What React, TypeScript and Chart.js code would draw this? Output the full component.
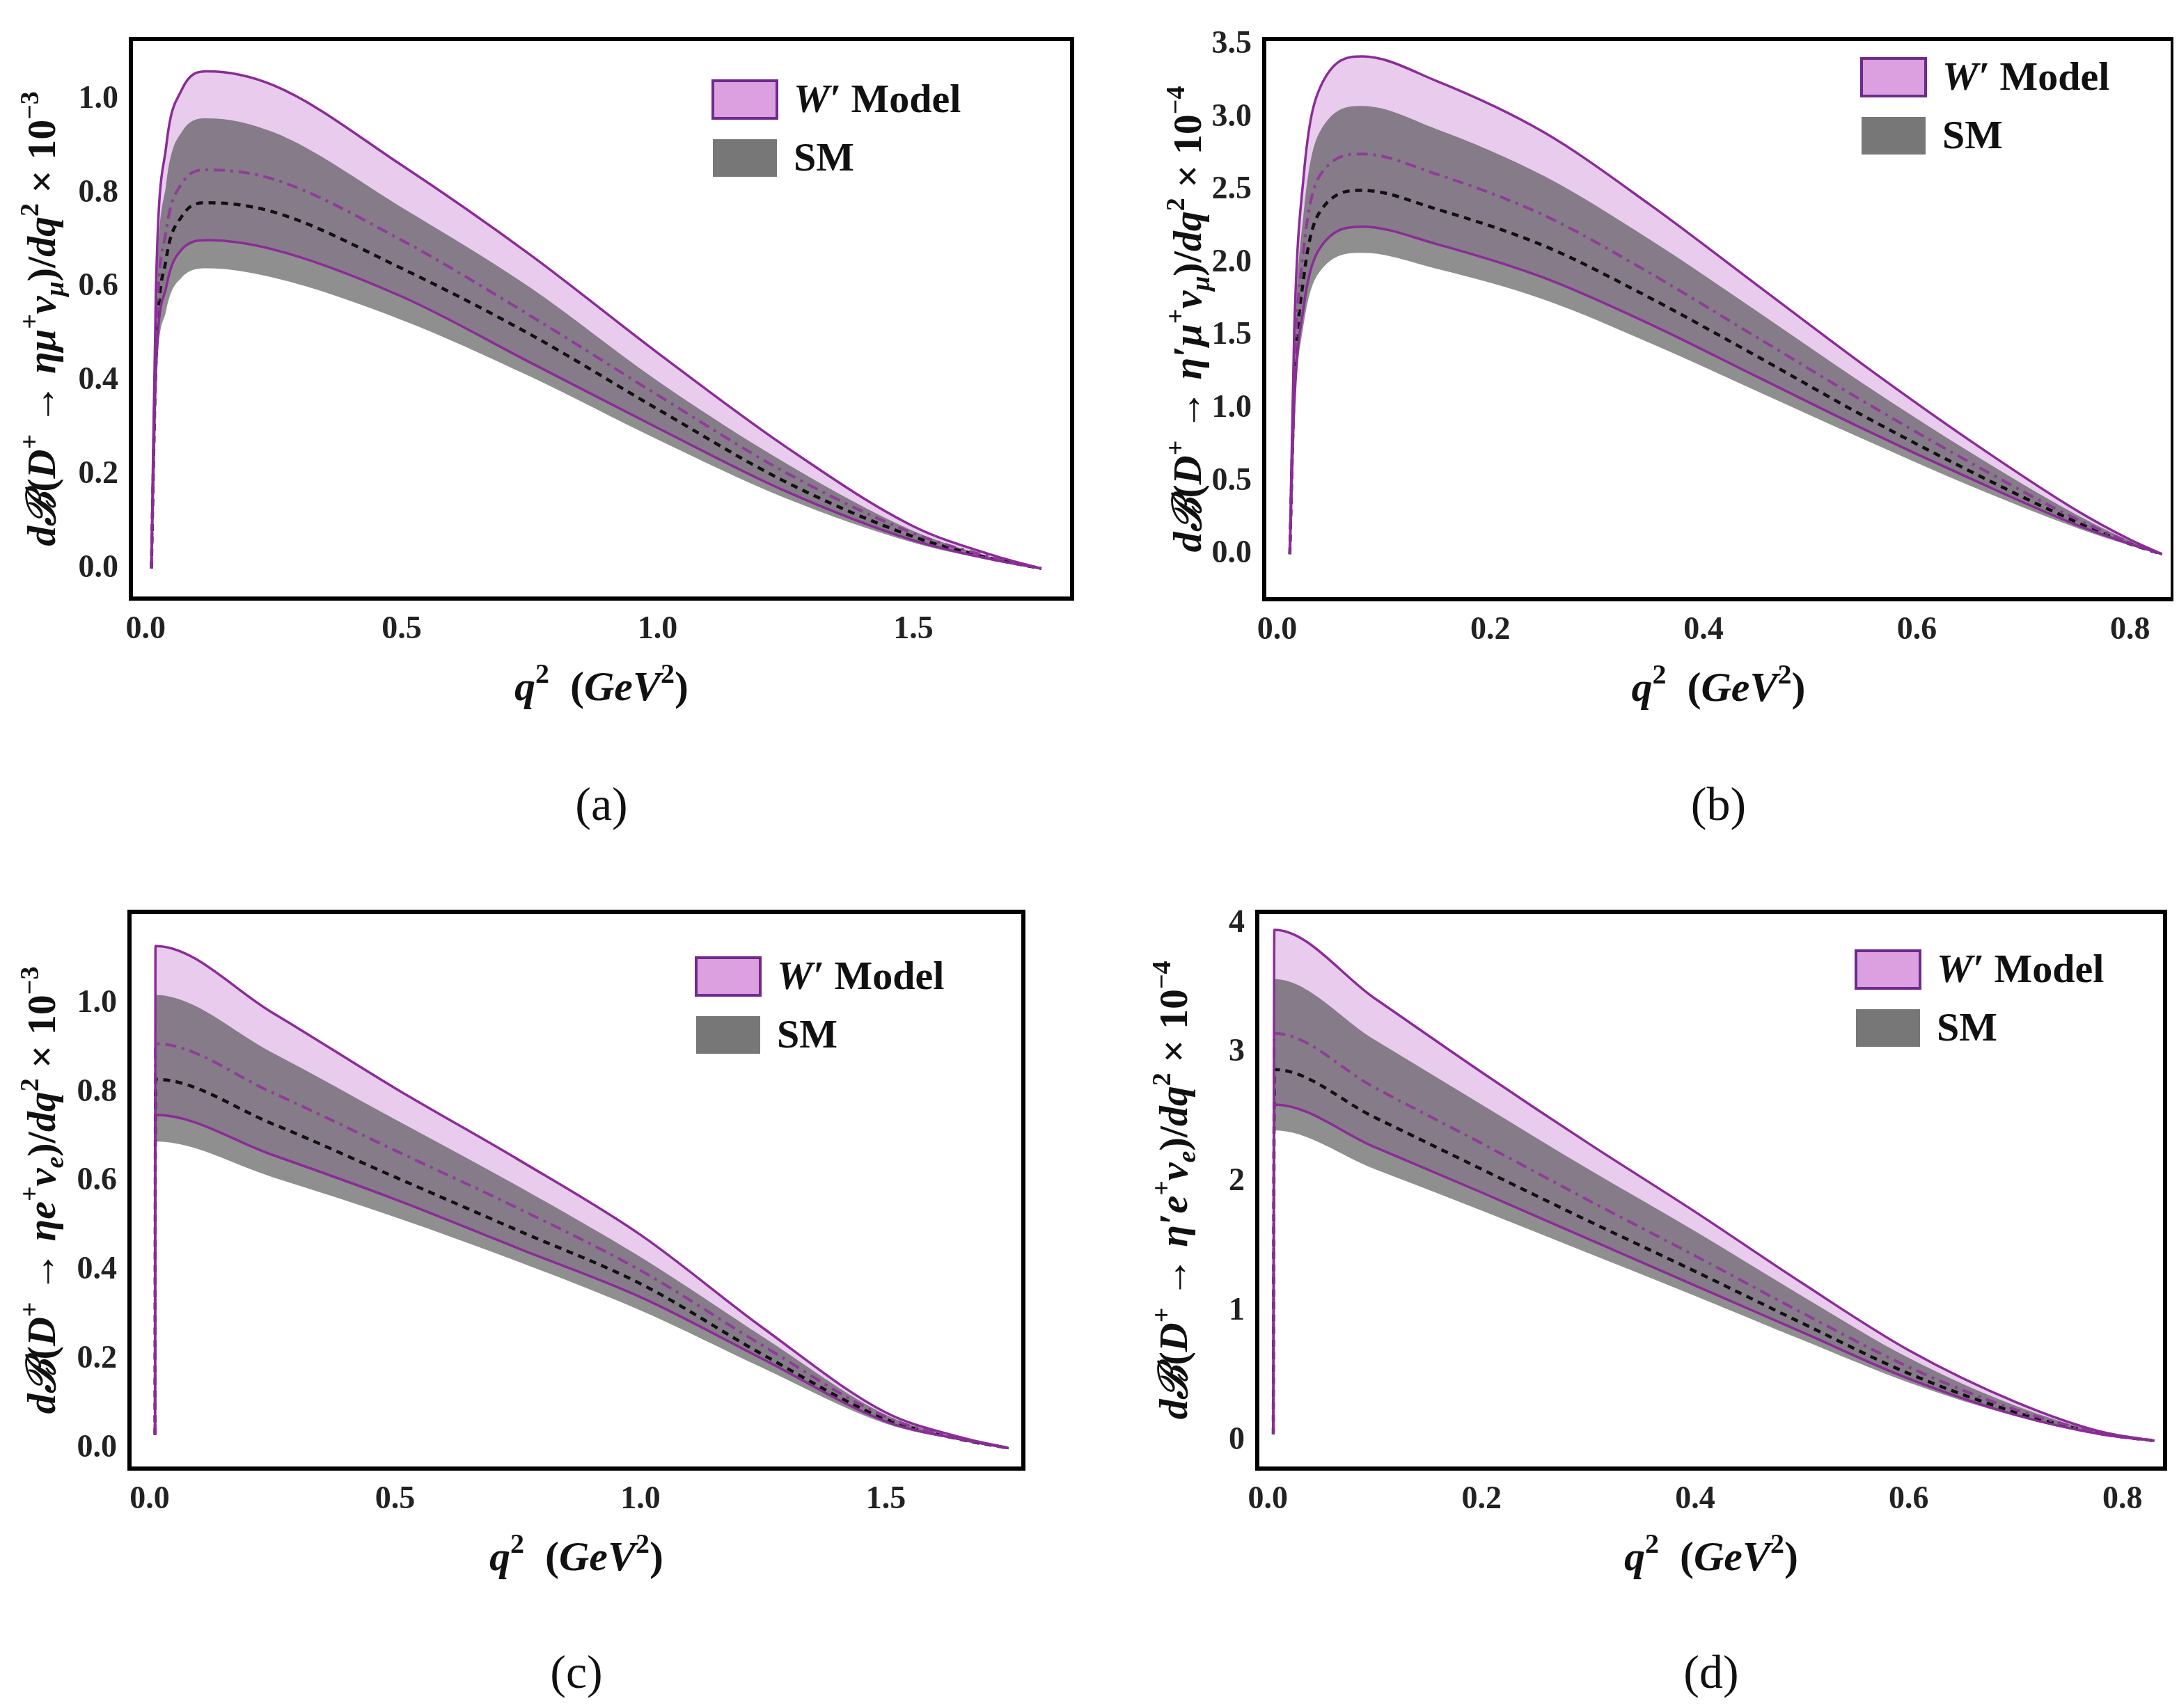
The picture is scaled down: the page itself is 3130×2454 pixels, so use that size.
import React, { useEffect, useRef } from "react";
import { Chart, registerables } from "chart.js";
Chart.register(...registerables);

// ---------- data ----------
const xA = [0.011, 0.02, 0.04, 0.07, 0.12, 0.25, 0.5, 0.75, 1.0, 1.25, 1.5, 1.65, 1.75];
const wUpA = [0, 0.6, 0.9, 1.02, 1.06, 1.03, 0.86, 0.67, 0.46, 0.26, 0.09, 0.03, 0];
const wLoA = [0, 0.42, 0.6, 0.68, 0.7, 0.68, 0.58, 0.44, 0.3, 0.165, 0.06, 0.02, 0];
const sUpA = [0, 0.55, 0.82, 0.93, 0.96, 0.93, 0.77, 0.6, 0.4, 0.225, 0.08, 0.025, 0];
const sLoA = [0, 0.38, 0.55, 0.62, 0.64, 0.62, 0.53, 0.41, 0.275, 0.15, 0.055, 0.018, 0];
const wCA = [0, 0.48, 0.72, 0.82, 0.85, 0.83, 0.7, 0.54, 0.37, 0.205, 0.075, 0.025, 0];
const sCA = [0, 0.44, 0.66, 0.75, 0.78, 0.76, 0.64, 0.5, 0.34, 0.185, 0.068, 0.022, 0];
const yTicksA = [0, 0.2, 0.4, 0.6, 0.8, 1.0];
const xTicksA = [0, 0.5, 1.0, 1.5];

const xB = [0.012, 0.016, 0.025, 0.04, 0.08, 0.15, 0.25, 0.35, 0.45, 0.55, 0.65, 0.75, 0.8, 0.83];
const wUpB = [0, 1.5, 2.6, 3.2, 3.42, 3.25, 2.9, 2.4, 1.85, 1.3, 0.78, 0.3, 0.1, 0];
const wLoB = [0, 1.0, 1.7, 2.1, 2.25, 2.13, 1.9, 1.58, 1.22, 0.86, 0.52, 0.2, 0.07, 0];
const sUpB = [0, 1.35, 2.35, 2.9, 3.08, 2.92, 2.6, 2.16, 1.67, 1.17, 0.7, 0.27, 0.09, 0];
const sLoB = [0, 0.92, 1.58, 1.94, 2.07, 1.96, 1.75, 1.45, 1.12, 0.79, 0.47, 0.18, 0.06, 0];
const wCB = [0, 1.2, 2.1, 2.6, 2.75, 2.61, 2.33, 1.93, 1.49, 1.05, 0.63, 0.24, 0.08, 0];
const sCB = [0, 1.1, 1.9, 2.35, 2.5, 2.37, 2.12, 1.76, 1.36, 0.95, 0.57, 0.22, 0.07, 0];
const yTicksB = [0, 0.5, 1.0, 1.5, 2.0, 2.5, 3.0, 3.5];
const xTicksB = [0, 0.2, 0.4, 0.6, 0.8];

const xC = [0.011, 0.012, 0.25, 0.5, 0.75, 1.0, 1.25, 1.5, 1.65, 1.75];
const wUpC = [0.03, 1.13, 0.98, 0.81, 0.65, 0.48, 0.27, 0.08, 0.025, 0];
const wLoC = [0.03, 0.75, 0.66, 0.56, 0.45, 0.34, 0.2, 0.06, 0.02, 0];
const sUpC = [0.03, 1.02, 0.89, 0.74, 0.59, 0.43, 0.25, 0.075, 0.022, 0];
const sLoC = [0.03, 0.69, 0.61, 0.52, 0.42, 0.31, 0.18, 0.055, 0.018, 0];
const wCC = [0.03, 0.91, 0.8, 0.67, 0.54, 0.4, 0.23, 0.07, 0.022, 0];
const sCC = [0.03, 0.83, 0.73, 0.61, 0.49, 0.37, 0.21, 0.065, 0.02, 0];
const yTicksC = [0, 0.2, 0.4, 0.6, 0.8, 1.0];
const xTicksC = [0, 0.5, 1.0, 1.5];

const xD = [0.005, 0.006, 0.1, 0.2, 0.3, 0.4, 0.5, 0.6, 0.7, 0.78, 0.83];
const wUpD = [0.05, 3.95, 3.42, 2.85, 2.3, 1.77, 1.22, 0.7, 0.3, 0.07, 0];
const wLoD = [0.05, 2.6, 2.27, 1.92, 1.56, 1.2, 0.84, 0.48, 0.2, 0.05, 0];
const sUpD = [0.05, 3.57, 3.1, 2.6, 2.1, 1.62, 1.12, 0.64, 0.27, 0.065, 0];
const sLoD = [0.05, 2.4, 2.1, 1.78, 1.45, 1.12, 0.78, 0.45, 0.19, 0.045, 0];
const wCD = [0.05, 3.15, 2.73, 2.3, 1.86, 1.43, 0.99, 0.57, 0.24, 0.06, 0];
const sCD = [0.05, 2.87, 2.5, 2.1, 1.7, 1.31, 0.91, 0.52, 0.22, 0.055, 0];
const yTicksD = [0, 1, 2, 3, 4];
const xTicksD = [0, 0.2, 0.4, 0.6, 0.8];

type Seg = { t: string; s?: "sup" | "sub"; i?: boolean };
const yTitleA: Seg[] = [{ t: "dℬ", i: true }, { t: "(" }, { t: "D", i: true }, { t: "+", s: "sup" }, { t: " → " }, { t: "ημ", i: true }, { t: "+", s: "sup" }, { t: "ν", i: true }, { t: "μ", s: "sub", i: true }, { t: ")/" }, { t: "dq", i: true }, { t: "2", s: "sup" }, { t: " × 10" }, { t: "−3", s: "sup" }];
const yTitleB: Seg[] = [{ t: "dℬ", i: true }, { t: "(" }, { t: "D", i: true }, { t: "+", s: "sup" }, { t: " → " }, { t: "η′μ", i: true }, { t: "+", s: "sup" }, { t: "ν", i: true }, { t: "μ", s: "sub", i: true }, { t: ")/" }, { t: "dq", i: true }, { t: "2", s: "sup" }, { t: " × 10" }, { t: "−4", s: "sup" }];
const yTitleC: Seg[] = [{ t: "dℬ", i: true }, { t: "(" }, { t: "D", i: true }, { t: "+", s: "sup" }, { t: " → " }, { t: "ηe", i: true }, { t: "+", s: "sup" }, { t: "ν", i: true }, { t: "e", s: "sub", i: true }, { t: ")/" }, { t: "dq", i: true }, { t: "2", s: "sup" }, { t: " × 10" }, { t: "−3", s: "sup" }];
const yTitleD: Seg[] = [{ t: "dℬ", i: true }, { t: "(" }, { t: "D", i: true }, { t: "+", s: "sup" }, { t: " → " }, { t: "η′e", i: true }, { t: "+", s: "sup" }, { t: "ν", i: true }, { t: "e", s: "sub", i: true }, { t: ")/" }, { t: "dq", i: true }, { t: "2", s: "sup" }, { t: " × 10" }, { t: "−4", s: "sup" }];
const xTitle: Seg[] = [{ t: "q", i: true }, { t: "2", s: "sup" }, { t: "  (" }, { t: "GeV", i: true }, { t: "2", s: "sup" }, { t: ")" }];

const FONT = '"Liberation Serif", "DejaVu Serif", serif';
const PURPLE = "#8a2c96";

function drawRich(ctx: CanvasRenderingContext2D, segs: Seg[], size: number) {
  const font = (s: Seg) => `${s.i ? "italic " : ""}bold ${s.s ? Math.round(size * 0.66) : size}px ${FONT}`;
  let w = 0;
  segs.forEach((s) => { ctx.font = font(s); w += ctx.measureText(s.t).width; });
  let x = -w / 2;
  ctx.textBaseline = "alphabetic";
  ctx.textAlign = "left";
  segs.forEach((s) => {
    ctx.font = font(s);
    const dy = s.s === "sup" ? -size * 0.42 : s.s === "sub" ? size * 0.2 : 0;
    ctx.fillText(s.t, x, dy + size * 0.33);
    x += ctx.measureText(s.t).width;
  });
}

type Panel = {
  left: number; top: number; w: number; h: number;
  pl: number; pt: number; pr: number; pb: number;
  xmin: number; xmax: number; ymin: number; ymax: number;
  x: number[]; wUp: number[]; wLo: number[]; sUp: number[]; sLo: number[]; wC: number[]; sC: number[];
  yTicks: number[]; xTicks: number[]; ydec: number; xdec: number;
  yTitle: Seg[]; yTitleX: number; legRight: number; legTop: number; caption: string; capTop: number;
};

const panels: Panel[] = [
  { left: 0, top: 0, w: 1565, h: 1020, pl: 188, pt: 56, pr: 1540, pb: 860, xmin: -0.029, xmax: 1.81, ymin: -0.064, ymax: 1.129,
    x: xA, wUp: wUpA, wLo: wLoA, sUp: sUpA, sLo: sLoA, wC: wCA, sC: sCA, yTicks: yTicksA, xTicks: xTicksA, ydec: 1, xdec: 1,
    yTitle: yTitleA, yTitleX: 60, legRight: 516, legTop: 60, caption: "(a)", capTop: 1115 },
  { left: 1565, top: 0, w: 1565, h: 1020, pl: 251, pt: 56, pr: 1556, pb: 861, xmin: -0.012, xmax: 0.84, ymin: -0.31, ymax: 3.54,
    x: xB, wUp: wUpB, wLo: wLoB, sUp: sUpB, sLo: sLoB, wC: wCB, sC: sCB, yTicks: yTicksB, xTicks: xTicksB, ydec: 1, xdec: 1,
    yTitle: yTitleB, yTitleX: 141, legRight: 447, legTop: 28, caption: "(b)", capTop: 1115 },
  { left: 0, top: 1250, w: 1565, h: 1020, pl: 186, pt: 60, pr: 1470, pb: 860, xmin: -0.041, xmax: 1.78, ymin: -0.046, ymax: 1.207,
    x: xC, wUp: wUpC, wLo: wLoC, sUp: sUpC, sLo: sLoC, wC: wCC, sC: sCC, yTicks: yTicksC, xTicks: xTicksC, ydec: 1, xdec: 1,
    yTitle: yTitleC, yTitleX: 60, legRight: 470, legTop: 66, caption: "(c)", capTop: 1112 },
  { left: 1565, top: 1250, w: 1565, h: 1020, pl: 241, pt: 60, pr: 1545, pb: 860, xmin: -0.01, xmax: 0.84, ymin: -0.215, ymax: 4.09,
    x: xD, wUp: wUpD, wLo: wLoD, sUp: sUpD, sLo: sLoD, wC: wCD, sC: sCD, yTicks: yTicksD, xTicks: xTicksD, ydec: 0, xdec: 1,
    yTitle: yTitleD, yTitleX: 121, legRight: 444, legTop: 56, caption: "(d)", capTop: 1112 },
];

function PanelChart({ p }: { p: Panel }) {
  const ref = useRef<HTMLCanvasElement>(null);
  useEffect(() => {
    const pts = (ys: number[]) => p.x.map((x, i) => ({ x, y: ys[i] }));
    const line = { showLine: true, pointRadius: 0, cubicInterpolationMode: "monotone" as const };
    const deco = {
      id: "deco",
      afterDraw(chart: any) {
        const ctx = chart.ctx as CanvasRenderingContext2D;
        const a = chart.chartArea;
        ctx.save();
        ctx.strokeStyle = "#000";
        ctx.lineWidth = 6;
        ctx.strokeRect(a.left, a.top, a.right - a.left, a.bottom - a.top);
        // legend
        const bx = a.right - p.legRight, by = a.top + p.legTop;
        ctx.fillStyle = "#dc9fdf";
        ctx.fillRect(bx, by, 92, 54);
        ctx.strokeStyle = "#6f2a8c";
        ctx.lineWidth = 4;
        ctx.strokeRect(bx, by, 92, 54);
        ctx.fillStyle = "#777777";
        ctx.fillRect(bx, by + 84, 92, 54);
        ctx.fillStyle = "#111";
        ctx.textBaseline = "middle";
        ctx.textAlign = "left";
        ctx.font = `italic bold 58px ${FONT}`;
        ctx.fillText("W′", bx + 116, by + 30);
        const ww = ctx.measureText("W′").width;
        ctx.font = `bold 58px ${FONT}`;
        ctx.fillText(" Model", bx + 116 + ww, by + 30);
        ctx.fillText("SM", bx + 116, by + 114);
        // titles
        ctx.fillStyle = "#111";
        ctx.save();
        ctx.translate(p.yTitleX, (a.top + a.bottom) / 2);
        ctx.rotate(-Math.PI / 2);
        drawRich(ctx, p.yTitle, 58);
        ctx.restore();
        ctx.save();
        ctx.translate((a.left + a.right) / 2, a.bottom + 126);
        drawRich(ctx, xTitle, 60);
        ctx.restore();
        ctx.restore();
      },
    };
    const tickFont = { family: FONT, size: 46, weight: "bold" as const };
    const chart = new Chart(ref.current!, {
      type: "scatter",
      data: {
        datasets: [
          { ...line, data: pts(p.sUp), borderWidth: 0, borderColor: "rgba(0,0,0,0)", fill: "+1", backgroundColor: "rgba(75,75,75,0.62)" },
          { ...line, data: pts(p.sLo), borderWidth: 0, borderColor: "rgba(0,0,0,0)", fill: false },
          { ...line, data: pts(p.wUp), borderWidth: 3.5, borderColor: PURPLE, fill: "+1", backgroundColor: "rgba(205,140,215,0.45)" },
          { ...line, data: pts(p.wLo), borderWidth: 3.5, borderColor: PURPLE, fill: false },
          { ...line, data: pts(p.wC), borderWidth: 4, borderColor: "#8e3d98", borderDash: [16, 8, 4, 8], fill: false },
          { ...line, data: pts(p.sC), borderWidth: 4.5, borderColor: "#111", borderDash: [10, 8], fill: false },
        ] as any,
      },
      options: {
        animation: false,
        responsive: false,
        devicePixelRatio: 1,
        layout: { padding: { top: p.pt, right: p.w - p.pr, left: 0, bottom: 0 } },
        plugins: { legend: { display: false }, tooltip: { enabled: false }, filler: { drawTime: "beforeDatasetsDraw" } } as any,
        scales: {
          x: {
            type: "linear", min: p.xmin, max: p.xmax,
            grid: { display: false }, border: { display: false },
            ticks: { font: tickFont, color: "#222", padding: 10, callback: (v: any) => Number(v).toFixed(p.xdec) },
            afterBuildTicks: (s: any) => { s.ticks = p.xTicks.map((v) => ({ value: v })); },
            afterFit: (s: any) => { s.height = p.h - p.pb; },
          },
          y: {
            type: "linear", min: p.ymin, max: p.ymax,
            grid: { display: false }, border: { display: false },
            ticks: { font: tickFont, color: "#222", padding: 10, callback: (v: any) => Number(v).toFixed(p.ydec) },
            afterBuildTicks: (s: any) => { s.ticks = p.yTicks.map((v) => ({ value: v })); },
            afterFit: (s: any) => { s.width = p.pl; },
          },
        } as any,
      },
      plugins: [deco],
    });
    return () => chart.destroy();
  }, [p]);
  return (
    <>
      <canvas ref={ref} width={p.w} height={p.h} style={{ position: "absolute", left: p.left, top: p.top, width: p.w, height: p.h }} />
      <div style={{ position: "absolute", left: p.left + (p.pl + p.pr) / 2 - 100, width: 200, top: p.top + p.capTop, textAlign: "center", fontFamily: FONT, fontSize: 68, lineHeight: "80px", color: "#111" }}>
        {p.caption}
      </div>
    </>
  );
}

export default function App() {
  return (
    <div style={{ position: "relative", width: 3130, height: 2454, background: "#fff", margin: -8, overflow: "hidden" }}>
      {panels.map((p, i) => <PanelChart key={i} p={p} />)}
    </div>
  );
}
